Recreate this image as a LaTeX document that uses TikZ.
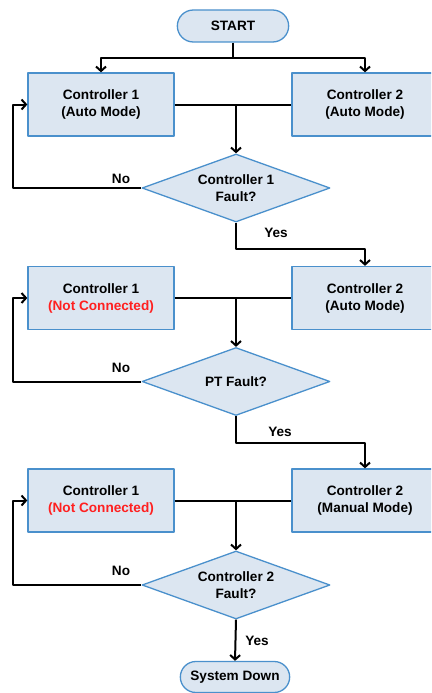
\documentclass[tikz,border=0pt]{standalone}
\usepackage{fontspec}
\setmainfont{Liberation Sans}
\usetikzlibrary{shapes.geometric,shapes.misc,arrows.meta,positioning}
\definecolor{boxfill}{HTML}{DCE6F1}
\definecolor{boxline}{HTML}{4A90CC}
\definecolor{offline}{HTML}{FF2020}
\begin{document}
\begin{tikzpicture}[x=1pt, y=-1pt, font=\fontsize{13.6}{17}\selectfont\bfseries, line join=round,
  >={Straight Barb[length=4.5pt,width=10pt]},
  ctrl/.style={draw=boxline, fill=boxfill, line width=1.3pt, minimum width=146pt, minimum height=63pt, align=center},
  fault/.style={diamond, draw=boxline, fill=boxfill, line width=1.3pt, minimum width=188pt, minimum height=68pt, aspect=2.8, inner sep=0pt, align=center},
  term/.style={rounded rectangle, draw=boxline, fill=boxfill, line width=1.3pt, minimum width=118pt, minimum height=32pt},
  flow/.style={line width=2pt}]
\useasboundingbox (0,0) rectangle (431,693);
\clip (0,0) rectangle (431,693);
\node[term] (start) at (233,26) {START};
\node[ctrl] (c1a) at (101,104.5) {Controller 1\\(Auto Mode)};
\node[ctrl] (c2a) at (365,104.5) {Controller 2\\(Auto Mode)};
\node[fault] (d1) at (236,188) {Controller 1\\Fault?};
\node[ctrl] (c1b) at (101,298) {Controller 1\\\textcolor{offline}{(Not Connected)}};
\node[ctrl] (c2b) at (365,298) {Controller 2\\(Auto Mode)};
\node[fault] (d2) at (236,381.5) {PT Fault?};
\node[ctrl] (c1c) at (101,500.5) {Controller 1\\\textcolor{offline}{(Not Connected)}};
\node[ctrl] (c2c) at (365,500.5) {Controller 2\\(Manual Mode)};
\node[fault] (d3) at (236,585) {Controller 2\\Fault?};
\node[term, minimum width=116pt, minimum height=31pt] (down) at (235,677) {System Down};
\draw[flow] (start.south) -- ++(0,15) coordinate (split);
\draw[flow,->] (split) -| (c1a.north);
\draw[flow,->] (split) -| (c2a.north);
\draw[flow] (c1a) -- (c2a);
\draw[flow,->] (c1a.east -| d1.north) -- (d1.north);
\draw[flow,->] (d1.west) -- ++(-128,0) |- (c1a.west);
\node (no1) at (121,179) {No};
\draw[flow,->] (d1.south) -- ++(0,26) -| (c2b.north);
\node (yes1) at (276,233) {Yes};
\draw[flow] (c1b) -- (c2b);
\draw[flow,->] (c1b.east -| d2.north) -- (d2.north);
\draw[flow,->] (d2.west) -- ++(-128,0) |- (c1b.west);
\node (no2) at (121,368) {No};
\draw[flow,->] (d2.south) -- ++(0,27) -| (c2c.north);
\node (yes2) at (280,432) {Yes};
\draw[flow] (c1c) -- (c2c);
\draw[flow,->] (c1c.east -| d3.north) -- (d3.north);
\draw[flow,->] (d3.west) -- ++(-128,0) |- (c1c.west);
\node (no3) at (121,571) {No};
\draw[flow,->] (d3.south) -- (down.north);
\node (yes3) at (257,641) {Yes};
\end{tikzpicture}
\end{document}
